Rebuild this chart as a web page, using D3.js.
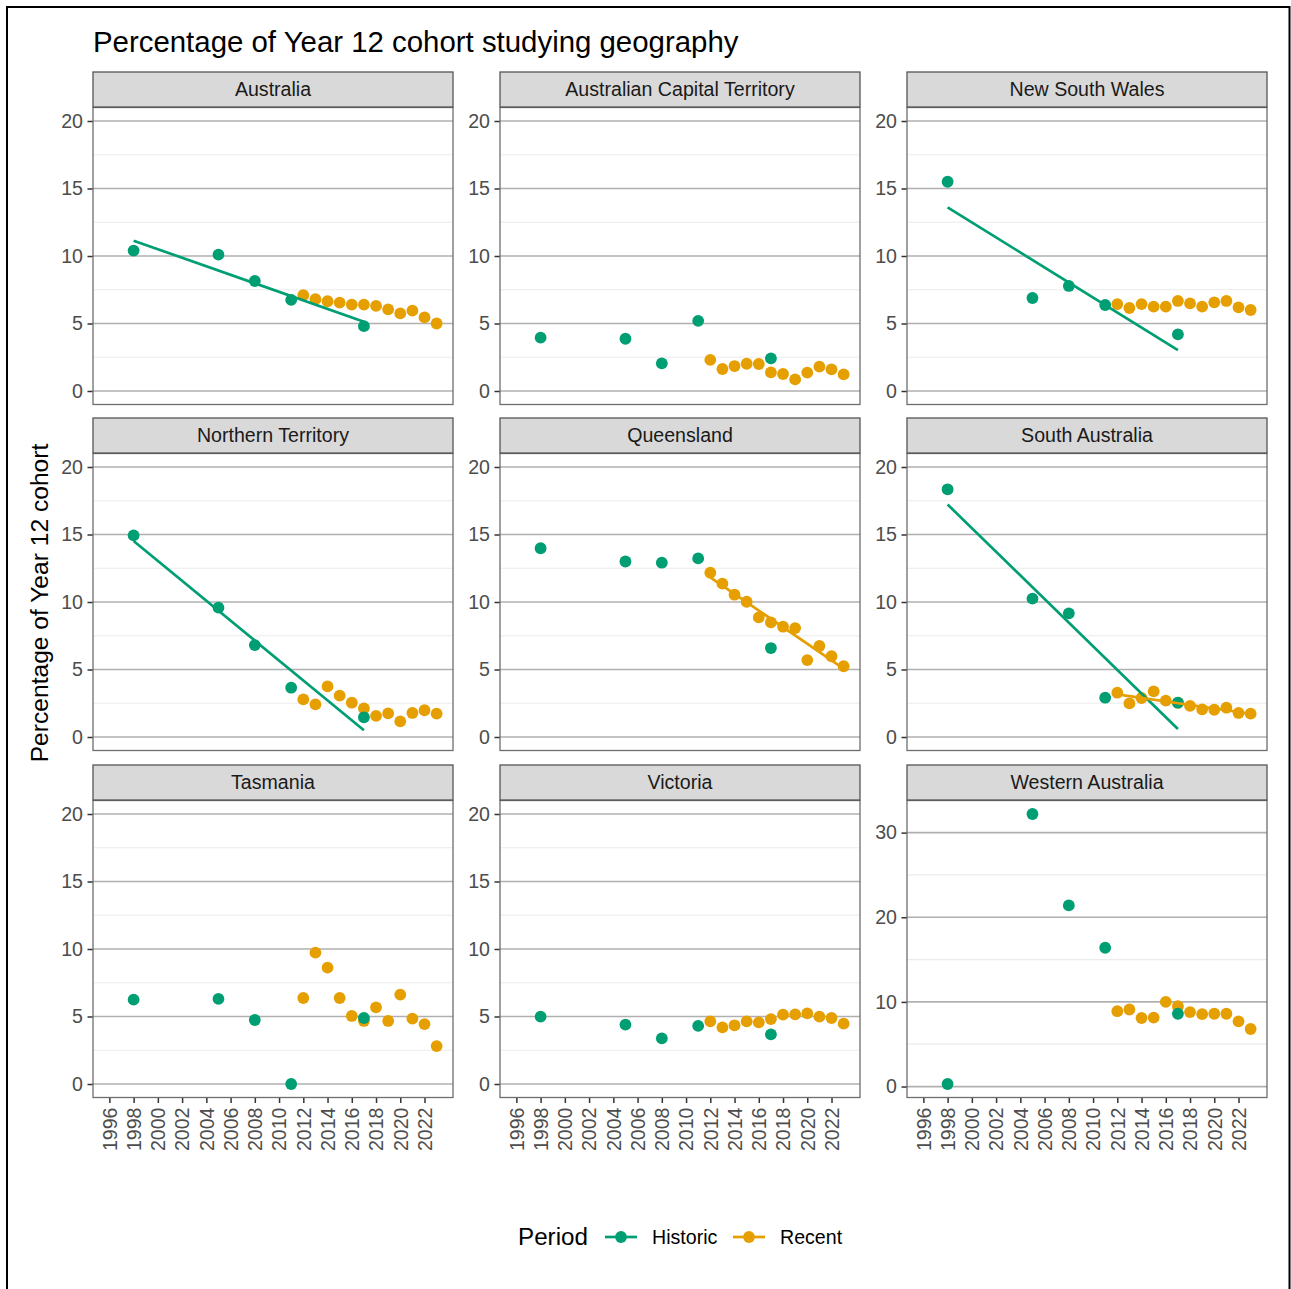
<!DOCTYPE html>
<html>
<head>
<meta charset="utf-8">
<script src="https://cdn.jsdelivr.net/npm/d3@7"></script>
<style>
  html, body { margin: 0; padding: 0; background: #fff; }
  svg { display: block; font-family: "Liberation Sans", Arial, sans-serif; }
</style>
</head>
<body>
<svg id="chart" width="1291" height="1289"></svg>
<script>
// ---------------- data ----------------
const states = ["Australia", "Australian Capital Territory", "New South Wales",
  "Northern Territory", "Queensland", "South Australia",
  "Tasmania", "Victoria", "Western Australia"];
const periods = ["Historic", "Recent"];
const historicYears = [1998, 2005, 2008, 2011, 2017];
const recentYears = [2012, 2013, 2014, 2015, 2016, 2017, 2018, 2019, 2020, 2021, 2022, 2023];
// one row per state, in the order of `states`
const historicValues = [
  [10.4, 10.1, 8.15, 6.75, 4.8],
  [3.95, 3.87, 2.05, 5.2, 2.42],
  [15.5, 6.89, 7.78, 6.37, 4.2],
  [14.94, 9.58, 6.81, 3.65, 1.46],
  [13.98, 13.0, 12.91, 13.23, 6.59],
  [18.35, 10.25, 9.16, 2.91, 2.54],
  [6.25, 6.3, 4.74, 0.0, 4.89],
  [4.99, 4.40, 3.38, 4.30, 3.68],
  [0.3, 32.2, 21.4, 16.4, 8.6]
];
const recentValues = [
  [7.1, 6.8, 6.65, 6.55, 6.4, 6.4, 6.3, 6.05, 5.75, 5.95, 5.45, 5.0],
  [2.3, 1.63, 1.85, 2.02, 2.0, 1.38, 1.26, 0.86, 1.36, 1.8, 1.6, 1.23],
  [6.44, 6.15, 6.44, 6.25, 6.25, 6.67, 6.49, 6.25, 6.57, 6.67, 6.2, 6.0],
  [2.79, 2.42, 3.75, 3.06, 2.54, 2.12, 1.56, 1.75, 1.16, 1.78, 1.98, 1.73],
  [12.17, 11.36, 10.54, 10.02, 8.86, 8.49, 8.17, 8.07, 5.70, 6.74, 5.98, 5.24],
  [3.28, 2.49, 2.89, 3.38, 2.69, 2.54, 2.3, 2.05, 2.02, 2.17, 1.78, 1.73],
  [6.37, 9.73, 8.62, 6.37, 5.04, 4.67, 5.68, 4.67, 6.62, 4.84, 4.44, 2.81],
  [4.64, 4.2, 4.35, 4.64, 4.57, 4.81, 5.14, 5.16, 5.23, 4.99, 4.89, 4.47],
  [8.9, 9.1, 8.1, 8.15, 10.0, 9.5, 8.8, 8.55, 8.6, 8.6, 7.7, 6.8]
];
// linear trend lines drawn (state, period)
const trendLines = [
  ["Australia", "Historic"],
  ["New South Wales", "Historic"],
  ["Northern Territory", "Historic"],
  ["Queensland", "Recent"],
  ["South Australia", "Historic"],
  ["South Australia", "Recent"]
];
const xTicks = [1996, 1998, 2000, 2002, 2004, 2006, 2008, 2010, 2012, 2014, 2016, 2018, 2020, 2022];
const yTicksDefault = [0, 5, 10, 15, 20];
const yTicksWA = [0, 10, 20, 30];
const titleText = "Percentage of Year 12 cohort studying geography";
const yTitleText = "Percentage of Year 12 cohort";

// ---------------- styling / layout ----------------
const colors = { Historic: "#009E73", Recent: "#E69F00" };
const colX = [93, 500, 907];
const panelW = 360;
const stripTop = [72, 418, 765];
const stripH = 35;
const plotTop = [107.5, 453.5, 800.5];
const plotH = 297;
const fs = 19.6;

const svg = d3.select("#chart");

// outer frame
svg.append("path")
  .attr("d", "M7,1295 L7,7 L1289.5,7 L1289.5,1295")
  .attr("fill", "none").attr("stroke", "#000").attr("stroke-width", 2);

// title
svg.append("text").attr("x", 93).attr("y", 52)
  .attr("font-size", 29.4).attr("fill", "#000").text(titleText);

// y axis title
svg.append("text")
  .attr("transform", "translate(48,603) rotate(-90)")
  .attr("text-anchor", "middle")
  .attr("font-size", 24.6).attr("fill", "#000").text(yTitleText);

function linreg(xs, ys) {
  const mx = d3.mean(xs), my = d3.mean(ys);
  let sxy = 0, sxx = 0;
  xs.forEach((x, i) => { sxy += (x - mx) * (ys[i] - my); sxx += (x - mx) * (x - mx); });
  const b = sxy / sxx;
  return x => my + b * (x - mx);
}

states.forEach((state, si) => {
  const col = si % 3, row = Math.floor(si / 3);
  const left = colX[col], top = plotTop[row];
  const isWA = state === "Western Australia";

  const x = d3.scaleLinear()
    .domain([1996 - 27 * 0.05, 2023 + 27 * 0.05])
    .range([left, left + panelW]);

  let yDom;
  if (isWA) {
    const all = historicValues[si].concat(recentValues[si]);
    const ext = d3.extent(all);
    const pad = (ext[1] - ext[0]) * 0.05;
    yDom = [ext[0] - pad, ext[1] + pad];
  } else {
    yDom = [0 - 1, 20 + 1];
  }
  const y = d3.scaleLinear().domain(yDom).range([top + plotH, top]);
  const yTicks = isWA ? yTicksWA : yTicksDefault;
  const minor = isWA ? [5, 15, 25] : [2.5, 7.5, 12.5, 17.5];

  const g = svg.append("g");

  g.append("rect").attr("x", left).attr("y", top).attr("width", panelW).attr("height", plotH)
    .attr("fill", "#fff");

  g.selectAll(".minor").data(minor).enter().append("line")
    .attr("x1", left).attr("x2", left + panelW)
    .attr("y1", d => y(d)).attr("y2", d => y(d))
    .attr("stroke", "#ebebeb").attr("stroke-width", 1.2);
  g.selectAll(".major").data(yTicks).enter().append("line")
    .attr("x1", left).attr("x2", left + panelW)
    .attr("y1", d => y(d)).attr("y2", d => y(d))
    .attr("stroke", "#b0b0b0").attr("stroke-width", 1.7);

  const yAxis = d3.axisLeft(y).tickValues(yTicks).tickSize(5.5).tickPadding(4.5)
    .tickFormat(d3.format("d"));
  const ya = g.append("g").attr("transform", `translate(${left},0)`).call(yAxis);
  ya.select(".domain").remove();
  ya.selectAll(".tick line").attr("stroke", "#333").attr("stroke-width", 1.5);
  ya.selectAll(".tick text").attr("font-size", fs).attr("fill", "#4d4d4d")
    .attr("font-family", "'Liberation Sans', Arial, sans-serif");

  if (row === 2) {
    const xAxis = d3.axisBottom(x).tickValues(xTicks).tickSize(5.5).tickPadding(4)
      .tickFormat(d3.format("d"));
    const xa = g.append("g").attr("transform", `translate(0,${top + plotH})`).call(xAxis);
    xa.select(".domain").remove();
    xa.selectAll(".tick line").attr("stroke", "#333").attr("stroke-width", 1.5);
    xa.selectAll(".tick text")
      .attr("font-size", fs).attr("fill", "#4d4d4d")
      .attr("font-family", "'Liberation Sans', Arial, sans-serif")
      .attr("text-anchor", "end")
      .attr("transform", "rotate(-90)")
      .attr("x", -10).attr("y", 0).attr("dy", "0.35em");
  }

  const recPts = recentYears.map((yr, i) => ({ year: yr, value: recentValues[si][i] }));
  const hisPts = historicYears.map((yr, i) => ({ year: yr, value: historicValues[si][i] }));
  [["Recent", recPts], ["Historic", hisPts]].forEach(([p, pts]) => {
    g.selectAll(null).data(pts).enter().append("circle")
      .attr("cx", d => x(d.year)).attr("cy", d => y(d.value))
      .attr("r", 5.9).attr("fill", colors[p]);
  });

  trendLines.filter(t => t[0] === state).forEach(([, p]) => {
    const pts = p === "Historic" ? hisPts : recPts;
    const f = linreg(pts.map(d => d.year), pts.map(d => d.value));
    const xs = d3.extent(pts, d => d.year);
    g.append("path")
      .datum(xs.map(xx => [xx, f(xx)]))
      .attr("d", d3.line().x(d => x(d[0])).y(d => y(d[1])))
      .attr("fill", "none").attr("stroke", colors[p]).attr("stroke-width", 2.7);
  });

  g.append("rect").attr("x", left).attr("y", top).attr("width", panelW).attr("height", plotH)
    .attr("fill", "none").attr("stroke", "#6e6e6e").attr("stroke-width", 1.3);

  g.append("rect").attr("x", left).attr("y", stripTop[row]).attr("width", panelW).attr("height", stripH)
    .attr("fill", "#d9d9d9").attr("stroke", "#555").attr("stroke-width", 1.3);
  g.append("text").attr("x", left + panelW / 2).attr("y", stripTop[row] + stripH / 2)
    .attr("dy", "0.35em").attr("text-anchor", "middle")
    .attr("font-size", fs).attr("fill", "#1a1a1a").text(state);
});

// legend
const leg = svg.append("g");
leg.append("text").attr("x", 518).attr("y", 1245).attr("font-size", 24.2).attr("fill", "#000").text("Period");
const legendItems = [
  { p: periods[0], x0: 605, tx: 652 },
  { p: periods[1], x0: 733, tx: 780 }
];
legendItems.forEach(it => {
  leg.append("line").attr("x1", it.x0).attr("x2", it.x0 + 32).attr("y1", 1237).attr("y2", 1237)
    .attr("stroke", colors[it.p]).attr("stroke-width", 2.7);
  leg.append("circle").attr("cx", it.x0 + 16).attr("cy", 1237).attr("r", 5.9).attr("fill", colors[it.p]);
  leg.append("text").attr("x", it.tx).attr("y", 1237).attr("dy", "0.35em")
    .attr("font-size", fs).attr("fill", "#000").text(it.p);
});
</script>
</body>
</html>
